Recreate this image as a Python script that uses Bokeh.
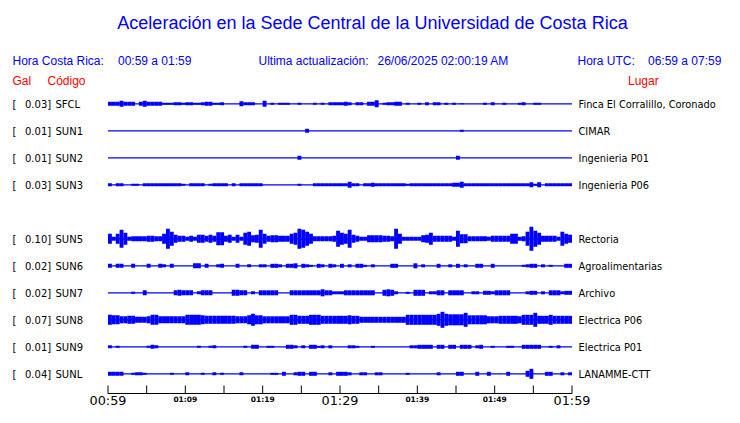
from bokeh.plotting import figure
from bokeh.models import Range1d, ColumnDataSource
from bokeh.core.properties import value
from bokeh.embed import file_html
from bokeh.resources import INLINE

# ---------------- data ----------------
codes = ["SFCL", "SUN1", "SUN2", "SUN3", "SUN5", "SUN6", "SUN7", "SUN8", "SUN9", "SUNL"]
slots = [0, 1, 2, 3, 5, 6, 7, 8, 9, 10]
peak_gal = [0.03, 0.01, 0.01, 0.03, 0.10, 0.02, 0.02, 0.07, 0.01, 0.04]
places = ["Finca El Corralillo, Coronado", "CIMAR", "Ingenieria P01", "Ingenieria P06",
          "Rectoria", "Agroalimentarias", "Archivo", "Electrica P06", "Electrica P01", "LANAMME-CTT"]

bin_minutes = 0.5  # envelope bins: 120 half-minute bins from 00:59 to 01:59

SFCL = [2, 2, 2, 3, 2, 2, 2, 0, 2, 3, 2, 2, 2, 2, 1, 1, 1, 1.5, 1.5, 1,
        1.5, 1.5, 1, 1, 1.5, 2, 2, 1, 1, 1.5, 0, 0, 0, 0, 2.5, 1.5, 1.5, 1.5, 0, 0,
        3, 0, 1, 0, 1, 1, 1, 0, 0, 1, 0, 0, 0, 1, 0, 1, 0, 1.5, 1.5, 1.5,
        1.5, 2, 1.5, 0, 1.5, 1.5, 0, 2, 2, 3.5, 0, 1, 1.5, 1.5, 2, 2, 0, 1, 0, 0,
        1, 0, 1.5, 0, 1.5, 1.5, 0, 1, 0, 1, 0, 0.5, 0, 0, 0, 0, 0, 1, 0, 1.5,
        0, 0, 1, 0, 0, 0, 1, 1.5, 0, 0, 1, 1, 0, 0, 0, 0, 0, 0, 0, 0]
SUN1 = [0] * 51 + [2] + [0] * 39 + [1] + [0] * 28
SUN2 = [0] * 49 + [2] + [0] * 40 + [2] + [0] * 29
SUN3 = [1.5, 0, 1.5, 1.5, 0, 0, 1, 1, 0, 1.5, 1.5, 1.5, 1.5, 1.5, 1.5, 1.5, 1.5, 1.5, 1.5, 1,
        0, 1.5, 1.5, 1.5, 1.5, 0, 1, 1.5, 1.5, 1.5, 1.5, 0, 1.5, 0, 1.5, 1.5, 1.5, 1.5, 1.5, 1.5,
        0, 0, 0, 0, 0, 0, 0, 0, 0, 1, 0, 0, 0, 1.5, 1.5, 1.5, 1.5, 1.5, 1.5, 1.5,
        1.5, 1.5, 3, 1.5, 1.5, 0, 1.5, 1.5, 2, 1.5, 1.5, 1.5, 1.5, 1.5, 1.5, 1.5, 1.5, 1, 1.5, 1.5,
        1.5, 1.5, 1.5, 1.5, 1.5, 1.5, 1.5, 1.5, 1.5, 2, 2, 3, 1.5, 1.5, 1.5, 1.5, 1.5, 1.5, 1.5, 1.5,
        1.5, 1.5, 1.5, 1.5, 1.5, 1.5, 1.5, 1.5, 1.5, 2.5, 1, 2.5, 0, 1.5, 1.5, 1.5, 1.5, 1.5, 1.5, 1.5]
SUN5 = [5, 2, 5, 9, 6, 2, 2.5, 2.5, 2.5, 2.5, 3, 3, 2.5, 2.5, 5, 10, 7, 4, 3, 3,
        2, 3, 2, 4, 4, 3, 4, 3, 6.5, 6.5, 3, 4, 2, 4, 2, 6, 7, 3.5, 4, 9,
        5, 3, 3.5, 3.5, 3, 3, 3, 5, 6, 10, 9, 7, 5, 2.5, 2.5, 2.5, 2.5, 2.5, 3, 8,
        6, 5, 9, 4, 3, 2, 2, 3.5, 3.5, 3.5, 3.5, 3, 3, 2.5, 10, 5, 2, 2, 2, 2,
        2, 3.5, 4, 6, 3, 3, 3, 3, 3, 2, 8, 4.5, 4.5, 2.5, 2.5, 2.5, 2.5, 2.5, 2, 3,
        3, 3, 3, 3, 5, 5, 2, 2.5, 7, 12, 8, 6, 3, 3, 3, 3, 2, 7, 5, 4]
SUN6 = [2, 0, 2, 2, 0, 0, 2, 0, 0, 0, 2, 0, 0, 2, 1.5, 0, 2, 0, 0, 0,
        0, 0, 2.5, 2.5, 0, 2, 0, 0, 1.5, 2, 0, 0, 0, 2, 0, 0, 1.5, 0, 0, 1.5,
        1.5, 0, 2, 2, 1.5, 0, 2, 2, 2.5, 0, 2, 1.5, 1, 0, 2, 1.5, 0, 2, 1.5, 0,
        2, 0, 1.5, 0, 2, 2, 1, 0, 1.5, 0, 0, 0, 0, 2, 2, 0, 0, 0, 0, 2.5,
        0, 1.5, 0, 0, 0, 2, 0, 0, 1.5, 0, 2, 0, 1.5, 0, 0, 2, 2, 0, 0, 2,
        0, 0, 0, 0, 0, 0, 0, 1, 1.5, 2, 2, 0, 1.5, 0, 1, 0, 0, 0, 2, 2]
SUN7 = [0, 0, 0, 0, 0, 0, 1, 0, 0, 2.5, 0, 0, 0, 0, 0, 0, 0, 2.5, 3, 2.5,
        2.5, 2.5, 0, 1.5, 2.5, 2.5, 2.5, 0, 0, 0, 0, 0, 3, 3, 2.5, 2.5, 0, 1.5, 0, 2.5,
        2.5, 2.5, 2.5, 2.5, 0, 0, 0, 2.5, 2.5, 2.5, 2.5, 2.5, 2.5, 2.5, 2.5, 3.5, 2.5, 2.5, 1.5, 1.5,
        1.5, 2.5, 2.5, 2.5, 2.5, 2.5, 2.5, 2.5, 2.5, 0, 0, 3, 3.5, 3, 1.5, 0, 0, 1, 0, 3,
        3, 3, 0, 1.5, 1.5, 2.5, 2.5, 0, 2.5, 2.5, 2.5, 2.5, 0, 0, 1.5, 1.5, 0, 2, 2, 1.5,
        2.5, 2.5, 2.5, 2.5, 0, 0, 0, 0, 1.5, 2, 2, 0, 1.5, 0, 2.5, 2.5, 2.5, 1.5, 2, 2]
SUN8 = [5, 4.5, 4.5, 3.5, 3.5, 4, 4, 3, 3, 3, 3.5, 5, 5, 3.5, 3.5, 3.5, 3.5, 3.5, 3.5, 3.5,
        5, 5, 5, 5, 4.5, 4, 4, 4, 4, 4, 4, 4, 4, 3.5, 3.5, 3.5, 4.5, 6, 4.5, 4.5,
        3.5, 3.5, 3.5, 3.5, 3.5, 3.5, 3.5, 5, 5, 4, 4, 4, 5, 5, 5, 4, 4, 4, 4, 4,
        4, 4, 4.5, 4, 4, 3, 3, 3, 3, 3, 3, 3, 3, 3, 3, 3, 3, 5, 5, 5,
        5, 5, 5, 5, 5, 6, 8, 6, 5.5, 5.5, 5.5, 5.5, 7, 4.5, 4.5, 4.5, 4.5, 4.5, 3.5, 3.5,
        3.5, 4, 4, 4, 4, 4, 3.5, 5, 5, 5, 7, 4, 4, 4, 5, 4, 4, 4, 4, 4]
SUN9 = [1.5, 0, 1, 0, 0, 0, 0, 0, 0, 0, 1, 2, 1.5, 0, 0, 0, 0, 0, 0, 0,
        0, 0, 0, 1, 0, 0, 1, 1.5, 0, 0, 0, 0, 0, 0, 0, 1, 0, 2, 2, 0,
        0, 1, 1, 0, 0, 0, 2, 2, 1.5, 0, 1.5, 0, 2, 2, 1, 1.5, 0, 1.5, 0, 0,
        0, 0, 1.5, 1.5, 1, 0, 0, 0, 1, 0, 0, 0, 0, 0, 0, 0, 0, 0, 1.5, 1.5,
        2, 2, 2, 2, 0, 2, 2, 0, 2, 2, 0, 2, 2, 2, 0, 1.5, 2, 0, 0, 1,
        0, 0, 0, 1, 1, 0, 0, 2, 2, 2, 2, 2, 0, 0, 1, 0, 1.5, 0, 0, 0]
SUNL = [2, 2, 2, 2, 0, 0, 1, 1.5, 1.5, 1, 0, 0, 0, 0, 0, 0, 1, 0, 0, 0,
        1.5, 0, 0, 0, 1, 0, 0, 1.5, 0, 1, 0, 0, 0, 0, 1.5, 0, 0, 0, 0, 0,
        0, 0, 1, 1, 0, 2, 0, 0, 1.5, 2, 2, 0, 2, 2, 0, 0, 0, 1.5, 0, 2,
        2, 2, 1.5, 0, 0, 1.5, 1.5, 0, 0, 1.5, 1.5, 0, 0, 0, 0, 0, 0, 1, 0, 0,
        0, 0, 0, 0, 0, 1.5, 0, 0, 0, 0, 2, 2, 0, 0, 0, 2, 0, 0, 2, 0,
        0, 0, 0, 2, 0, 0, 0, 0, 3, 5, 0, 0, 0, 2, 2, 0, 0, 1.5, 0, 1.5]
envelopes = [SFCL, SUN1, SUN2, SUN3, SUN5, SUN6, SUN7, SUN8, SUN9, SUNL]

tick_minutes = [0, 5, 10, 15, 20, 25, 30, 35, 40, 45, 50, 55, 60]
big_tick_minutes = [0, 30, 60]
big_tick_labels = ["00:59", "01:29", "01:59"]
small_tick_minutes = [10, 20, 40, 50]
small_tick_labels = ["01:09", "01:19", "01:39", "01:49"]

title = "Aceleración en la Sede Central de la Universidad de Costa Rica"
hdr_cr = ("Hora Costa Rica:", "00:59 a 01:59")
hdr_upd = ("Ultima actualización:", "26/06/2025 02:00:19 AM")
hdr_utc = ("Hora UTC:", "06:59 a 07:59")

# ---------------- layout ----------------
W, H = 724, 407
X_SHIFT = 3
PX_PER_MIN = 464.0 / 60.0
ROW_PX = 27.0


def tx(xr):  # reference-pixel x -> minutes
    return (xr - 110.5) / PX_PER_MIN


def ry(yr):  # reference-pixel y -> row units
    return (yr - 103.3) / ROW_PX


BLUE = "#0000ff"
RED = "#ff0000"

p = figure(width=W, height=H, output_backend="svg", toolbar_location=None,
           x_range=Range1d(tx(X_SHIFT), tx(X_SHIFT + W)), y_range=Range1d(ry(H), ry(0)),
           x_axis_type=None, y_axis_type=None, min_border=0)
p.outline_line_color = None
p.grid.visible = False
p.background_fill_color = "white"
p.border_fill_color = "white"

# baselines
p.segment(x0=[0] * len(slots), x1=[60] * len(slots), y0=slots, y1=slots,
          line_color=BLUE, line_width=1.2)

# envelopes
bx, btop, bbot = [], [], []
for s, env in zip(slots, envelopes):
    for k, a in enumerate(env):
        if a > 0:
            bx.append((k + 0.5) * bin_minutes)
            btop.append(s - a / ROW_PX)
            bbot.append(s + a / ROW_PX)
p.vbar(x="x", width=bin_minutes, top="top", bottom="bottom",
       source=ColumnDataSource(dict(x=bx, top=btop, bottom=bbot)),
       fill_color=BLUE, line_color=None)

# station labels (vertically centred on each trace)
lab_y = [s + 0.4 / ROW_PX for s in slots]
lab_font = value("DejaVu Sans")
common = dict(text_font=lab_font, text_font_size="10px", text_baseline="middle", text_color="black")
p.text(x=[tx(15)] * len(slots), y=lab_y, text=["["] * len(slots), **common)
p.text(x=[tx(27.5)] * len(slots), y=lab_y, text=[f"{v:.2f}]" for v in peak_gal], **common)
p.text(x=[tx(58)] * len(slots), y=lab_y, text=codes, **common)
p.text(x=[tx(581)] * len(slots), y=lab_y, text=places, text_font=lab_font,
       text_font_size="9.8px", text_baseline="middle", text_color="black")

# title and headers
hfont = value("Liberation Sans")
p.text(x=[tx(375)], y=[ry(22)], text=[title], text_font=hfont, text_font_size="18px",
       text_align="center", text_baseline="middle", text_color=BLUE)
p.text(x=[tx(15), tx(120.5), tx(261), tx(380), tx(580), tx(650.5)], y=[ry(60.8)] * 6,
       text=[hdr_cr[0], hdr_cr[1], hdr_upd[0], hdr_upd[1], hdr_utc[0], hdr_utc[1]],
       text_font=hfont, text_font_size="12px", text_baseline="middle", text_color=BLUE)
p.text(x=[tx(15), tx(50), tx(630.5)], y=[ry(80.6)] * 3, text=["Gal", "Código", "Lugar"],
       text_font=hfont, text_font_size="12px", text_baseline="middle", text_color=RED)

# time axis (moved up slightly so its labels fit in the window)
AX_Y = 393
p.segment(x0=[0], x1=[60], y0=[ry(AX_Y)], y1=[ry(AX_Y)], line_color="black", line_width=1)
p.segment(x0=tick_minutes, x1=tick_minutes, y0=[ry(AX_Y - 8)] * len(tick_minutes),
          y1=[ry(AX_Y)] * len(tick_minutes), line_color="black", line_width=1)
p.text(x=big_tick_minutes, y=[ry(AX_Y + 7.3)] * 3, text=big_tick_labels, text_font=lab_font,
       text_font_size="12.8px", text_align="center", text_baseline="middle", text_color="black")
p.text(x=small_tick_minutes, y=[ry(AX_Y + 5.5)] * 4, text=small_tick_labels, text_font=lab_font,
       text_font_size="7.5px", text_font_style="bold", text_align="center",
       text_baseline="middle", text_color="black")

open("out.html", "w").write(file_html(p, INLINE))
